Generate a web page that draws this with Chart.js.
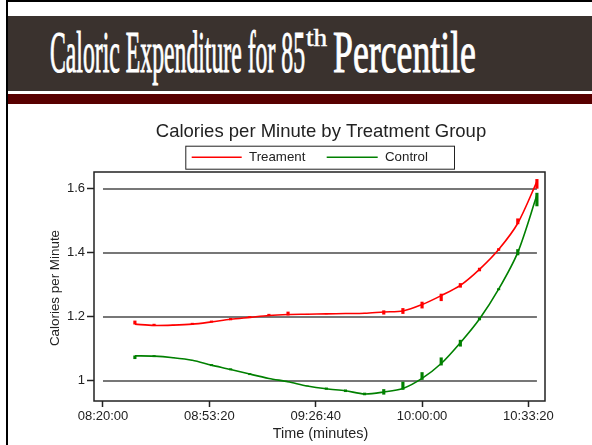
<!DOCTYPE html>
<html><head><meta charset="utf-8">
<script src="https://cdn.jsdelivr.net/npm/chart.js@4.4.1/dist/chart.umd.min.js"></script>
<style>
html,body{margin:0;padding:0;background:#fff;}
body{width:592px;height:445px;position:relative;overflow:hidden;}
#topline{position:absolute;left:6px;top:0;width:586px;height:2px;background:#000;}
#leftline{position:absolute;left:6px;top:0;width:2px;height:445px;background:#000;}
#header{position:absolute;left:8px;top:16px;width:584px;height:75px;background:#3a322e;}
#redbar{position:absolute;left:8px;top:94px;width:584px;height:10px;background:#580000;}
.ht{position:absolute;white-space:nowrap;color:#fff;font-family:'Liberation Serif',serif;font-size:59px;line-height:59px;transform-origin:0 0;-webkit-text-stroke:1px #fff;}
.ht.sup{font-size:26px;line-height:26px;-webkit-text-stroke:0.5px #fff;}
#wrap{position:absolute;left:8px;top:104px;width:584px;height:341px;}
</style></head>
<body>
<div id="topline"></div>
<div id="header"></div>
<div id="redbar"></div>
<div id="leftline"></div>
<div class="ht" style="left:50px;top:22.6px" data-w="255">Caloric Expenditure for 85</div>
<div class="ht sup" style="left:306px;top:25px" data-w="21">th</div>
<div class="ht" style="left:333px;top:22.6px" data-w="143">Percentile</div>
<div id="wrap"><canvas id="c" width="584" height="341"></canvas></div>
<script>
// ---- data ----
const chartTitle = "Calories per Minute by Treatment Group";
const seriesNames = ["Treament", "Control"];
const xAxisTitle = "Time (minutes)";
const yAxisTitle = "Calories per Minute";
const times = ["08:30","08:36","08:42","08:48","08:54","09:00","09:06","09:12","09:18","09:24","09:30",
               "09:36","09:42","09:48","09:54","10:00","10:06","10:12","10:18","10:24","10:30","10:36"];
const treatment = [1.177,1.173,1.174,1.177,1.184,1.192,1.198,1.204,1.207,1.208,1.209,
                   1.210,1.211,1.215,1.218,1.238,1.266,1.298,1.348,1.410,1.492,1.622];
const treatLo   = [1.177,1.172,1.174,1.176,1.183,1.190,1.197,1.203,1.205,1.208,1.209,
                   1.210,1.211,1.208,1.210,1.227,1.250,1.292,1.343,1.407,1.490,1.601];
const treatHi   = [1.187,1.177,1.174,1.180,1.187,1.195,1.201,1.208,1.215,1.208,1.209,
                   1.210,1.211,1.219,1.226,1.246,1.271,1.304,1.352,1.413,1.506,1.629];
const control   = [1.078,1.077,1.072,1.064,1.049,1.0355,1.021,1.0075,0.997,0.984,0.975,
                   0.969,0.959,0.965,0.976,1.0075,1.054,1.119,1.193,1.286,1.401,1.580];
const ctrlLo    = [1.069,1.075,1.072,1.064,1.047,1.034,1.019,1.0075,0.997,0.984,0.973,
                   0.966,0.956,0.958,0.973,1.004,1.049,1.108,1.190,1.284,1.393,1.546];
const ctrlHi    = [1.078,1.079,1.072,1.064,1.051,1.038,1.023,1.0075,0.997,0.984,0.978,
                   0.972,0.962,0.973,0.996,1.026,1.072,1.127,1.197,1.288,1.410,1.586];
const xTickLabels = ["08:20:00","08:53:20","09:26:40","10:00:00","10:33:20"];
const yTickValues = [1, 1.2, 1.4, 1.6];
const yTickLabels = ["1","1.2","1.4","1.6"];

// ---- header text fitting ----
document.querySelectorAll('.ht').forEach(el=>{
  const w = el.offsetWidth; const t = +el.dataset.w;
  el.style.transform = 'scaleX(' + (t / w) + ')';
});

const toSec = s => { const p = s.split(':').map(Number); return p[0]*3600 + p[1]*60 + (p[2]||0); };
const timeSecs = times.map(toSec);
const xTickSecs = xTickLabels.map(toSec);

const RED = '#ff0000', GREEN = '#008000', INK = '#222';
const FONT = "'Liberation Sans', Arial, sans-serif";

const deco = {
  id: 'deco',
  beforeDatasetsDraw(chart) {
    const {ctx, scales: {x, y}} = chart;
    ctx.save();
    ctx.strokeStyle = '#777777'; ctx.lineWidth = 2;
    const x0 = x.getPixelForValue(xTickSecs[0]);
    const x1 = x.getPixelForValue(timeSecs[timeSecs.length - 1]);
    yTickValues.forEach(v => {
      const py = Math.round(y.getPixelForValue(v));
      ctx.beginPath(); ctx.moveTo(x0, py); ctx.lineTo(x1, py); ctx.stroke();
    });
    ctx.restore();
  },
  afterDraw(chart) {
    const {ctx, chartArea: a} = chart;
    ctx.save();
    // frame
    ctx.strokeStyle = INK; ctx.lineWidth = 1.5;
    ctx.strokeRect(a.left, a.top, a.right - a.left, a.bottom - a.top);
    // title
    const cx = (a.left + a.right) / 2;
    ctx.fillStyle = INK;
    ctx.font = "18.5px " + FONT;
    ctx.textAlign = 'center'; ctx.textBaseline = 'alphabetic';
    ctx.fillText(chartTitle, cx + 1.5, a.top - 35.3);
    // legend
    const lx = a.left + 91.3, ly = a.top - 26.3, lw = 268.7, lh = 23;
    ctx.lineWidth = 1; ctx.strokeStyle = INK;
    ctx.strokeRect(lx + 0.5, ly + 0.5, lw, lh);
    const my = ly + 11.5;
    ctx.lineWidth = 1.6;
    ctx.strokeStyle = RED;
    ctx.beginPath(); ctx.moveTo(lx + 6.4, my); ctx.lineTo(lx + 56.4, my); ctx.stroke();
    ctx.strokeStyle = GREEN;
    ctx.beginPath(); ctx.moveTo(lx + 141.4, my); ctx.lineTo(lx + 192.4, my); ctx.stroke();
    ctx.font = "13.3px " + FONT; ctx.textAlign = 'left'; ctx.textBaseline = 'middle';
    ctx.fillText(seriesNames[0], lx + 63.7, my + 0.5);
    ctx.fillText(seriesNames[1], lx + 199.7, my + 0.5);
    // axis titles
    ctx.font = "14.4px " + FONT; ctx.textAlign = 'center';
    ctx.fillText(xAxisTitle, cx + 1, a.bottom + 33.5);
    ctx.save();
    ctx.translate(a.left - 39, (a.top + a.bottom) / 2 + 1.5);
    ctx.rotate(-Math.PI / 2);
    ctx.font = "13.4px " + FONT;
    ctx.fillText(yAxisTitle, 0, 0);
    ctx.restore();
    ctx.restore();
  }
};

const pts = vals => vals.map((v, i) => ({x: timeSecs[i], y: v}));
const bars = (lo, hi) => lo.map((v, i) => ({x: timeSecs[i], y: [v, hi[i]]}));

new Chart(document.getElementById('c'), {
  type: 'line',
  data: {
    datasets: [
      {type: 'line', label: seriesNames[0], data: pts(treatment), borderColor: RED, borderWidth: 1.6, pointRadius: 0, tension: 0.3, fill: false, order: 2},
      {type: 'line', label: seriesNames[1], data: pts(control), borderColor: GREEN, borderWidth: 1.6, pointRadius: 0, tension: 0.3, fill: false, order: 2},
      {type: 'bar', label: 'treat-marks', data: bars(treatLo, treatHi), backgroundColor: RED, barThickness: 2.5, grouped: false, order: 1, minBarLength: 0},
      {type: 'bar', label: 'ctrl-marks', data: bars(ctrlLo, ctrlHi), backgroundColor: GREEN, barThickness: 2.5, grouped: false, order: 1, minBarLength: 0}
    ]
  },
  options: {
    responsive: false, animation: false, devicePixelRatio: 1,
    layout: {padding: {left: 26, top: 68, right: 47, bottom: 14}},
    plugins: {legend: {display: false}, title: {display: false}, tooltip: {enabled: false}},
    scales: {
      x: {
        type: 'linear', min: 29831, max: 38312, offset: false,
        afterBuildTicks: s => { s.ticks = xTickSecs.map(v => ({value: v})); },
        afterFit: s => { s.height = 30; },
        ticks: {callback: (v, i) => xTickLabels[i], font: {family: FONT, size: 13}, color: INK, padding: 2, maxRotation: 0, autoSkip: false},
        grid: {display: true, drawOnChartArea: false, drawTicks: true, tickLength: 6, tickColor: INK, tickWidth: 1.5, offset: false},
        border: {display: false}
      },
      y: {
        type: 'linear', min: 0.937, max: 1.652,
        afterBuildTicks: s => { s.ticks = yTickValues.map(v => ({value: v})); },
        afterFit: s => { s.width = 60; },
        ticks: {callback: (v, i) => yTickLabels[i], font: {family: FONT, size: 13}, color: INK, padding: 2},
        grid: {display: true, drawOnChartArea: false, drawTicks: true, tickLength: 7, tickColor: INK, tickWidth: 1.5},
        border: {display: false}
      }
    }
  },
  plugins: [deco]
});
</script>
</body></html>
